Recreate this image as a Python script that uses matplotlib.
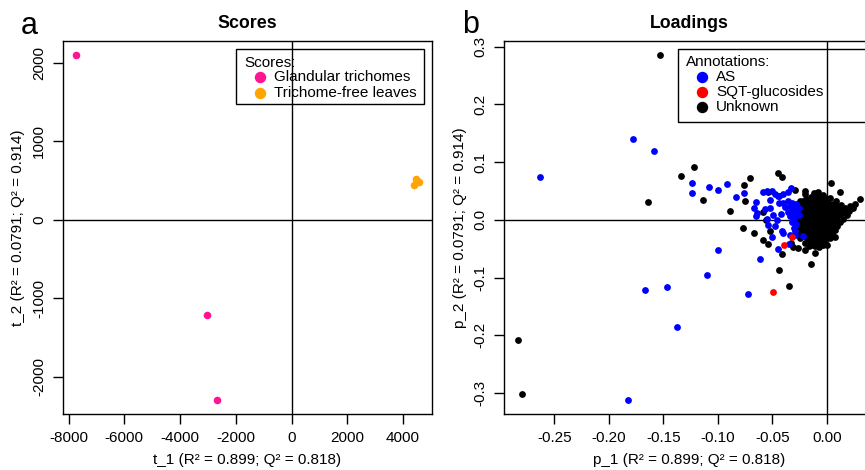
import numpy as np
import matplotlib
matplotlib.use("Agg")
import matplotlib.pyplot as plt
from matplotlib.patches import Rectangle
from matplotlib.lines import Line2D

plt.rcParams['font.family'] = ['Liberation Sans', 'DejaVu Sans']
plt.rcParams['axes.unicode_minus'] = False

# ---- scores (panel a) ----
gland_x = [-7720, -3038, -2668]
gland_y = [2100, -1211, -2304]
free_x = [4381, 4452, 4560, 4500]
free_y = [441, 521, 474, 490]

score_xticks = [-8000, -6000, -4000, -2000, 0, 2000, 4000]
score_yticks = [-2000, -1000, 0, 1000, 2000]

# ---- loadings (panel b) ----
as_x = [-0.263, -0.1777, -0.1581, -0.1239, -0.1233, -0.1083, -0.0994, -0.0915, -0.0832, -0.0759,
        -0.0646, -0.0667, -0.0637, -0.0649, -0.0582, -0.0545, -0.0505, -0.052, -0.0566, -0.052,
        -0.0453, -0.0435, -0.033, -0.049, -0.0459, -0.0536, -0.0474, -0.0505, -0.0413, -0.0404,
        -0.0444, -0.0352, -0.0337, -0.0291, -0.022, -0.0997, -0.0609, -0.1101, -0.0725, -0.1468,
        -0.1667, -0.1373, -0.1826, -0.0545,
        -0.040, -0.036, -0.032, -0.028, -0.038, -0.034, -0.030, -0.026, -0.036, -0.032,
        -0.028, -0.034, -0.030, -0.026, -0.032, -0.028, -0.030, -0.029, -0.048, -0.040,
        -0.036, -0.044, -0.042]
as_y = [0.074, 0.1407, 0.1188, 0.0645, 0.0473, 0.0571, 0.0519, 0.0628, 0.0398, 0.0462,
        0.0317, 0.0202, 0.0116, 0.0069, 0.049, 0.0507, 0.0507, 0.0346, 0.019, 0.0202,
        0.0415, 0.0415, 0.0548, 0.0087, 0.0, -0.0087, -0.0104, -0.030, -0.0185, -0.022,
        -0.0507, -0.042, -0.026, -0.026, -0.0272, -0.0531, -0.0675, -0.0952, -0.128, -0.1159,
        -0.1211, -0.1851, -0.3131, 0.0017,
        0.030, 0.032, 0.030, 0.027, 0.022, 0.024, 0.022, 0.020, 0.014, 0.016,
        0.012, 0.006, 0.004, 0.008, -0.004, -0.008, -0.014, -0.020, 0.045, 0.044,
        0.048, 0.030, 0.010]

sqt_x = [-0.049, -0.0389, -0.0318]
sqt_y = [-0.1257, -0.0444, -0.0306]

# scattered unknowns
unk_x = [-0.1527, -0.2832, -0.2795, -0.1334, -0.1217, -0.1636, -0.1135, -0.089, -0.0756, -0.0701,
         -0.0752, -0.0765, -0.0667, -0.0584, -0.0536, -0.0557, -0.0582, -0.044, -0.0352, -0.045,
         -0.0413, -0.0536, -0.0416, -0.0312, -0.0263, -0.0199, -0.0105, -0.0147, 0.007, 0.0,
         0.0039, 0.0116, 0.0306, 0.0207, 0.016, 0.012, -0.0083, -0.0199, -0.029, -0.009,
         -0.0046, -0.0325, -0.052]
unk_y = [0.286, -0.2081, -0.3016, 0.0761, 0.0923, 0.0306, 0.0346, 0.015, 0.0606, 0.0732,
         0.0329, -0.0144, -0.0225, -0.0346, -0.042, -0.0005, 0.0144, -0.0877, -0.1154, 0.0808,
         0.0739, 0.0479, -0.0588, -0.0473, -0.049, -0.0519, -0.0571, -0.0767, -0.0289, -0.0433,
         0.0645, 0.0479, 0.0358, 0.0237, 0.017, 0.013, 0.0479, 0.0502, 0.0519, 0.047,
         0.0393, -0.0403, -0.0202]

# dense core of unknowns near the origin
core_x = [-0.015, -0.010, -0.006,
          -0.019, -0.0145, -0.010, -0.0055, -0.001,
          -0.022, -0.017, -0.012, -0.008, -0.003, 0.000,
          -0.0215, -0.017, -0.0125, -0.008, -0.0035, 0.001, 0.0055,
          -0.024, -0.019, -0.015, -0.010, -0.006, -0.001, 0.004, 0.009,
          -0.0235, -0.019, -0.0145, -0.010, -0.0055, -0.001, 0.0035, 0.008, 0.0125,
          -0.026, -0.021, -0.017, -0.012, -0.008, -0.003, 0.002, 0.006, 0.011, 0.014,
          -0.0235, -0.019, -0.0145, -0.010, -0.0055, -0.001, 0.0035, 0.008, 0.0125, 0.016,
          -0.026, -0.021, -0.017, -0.012, -0.008, -0.003, 0.002, 0.006, 0.011,
          -0.0235, -0.019, -0.0145, -0.010, -0.0055, -0.001, 0.0035, 0.008,
          -0.024, -0.019, -0.015, -0.010, -0.006, -0.001, 0.004, 0.008,
          -0.0215, -0.017, -0.0125, -0.008, -0.0035, 0.001, 0.0055,
          -0.024, -0.019, -0.015, -0.010, -0.006, -0.001, 0.004,
          -0.0215, -0.017, -0.0125, -0.008, -0.0035, 0.001, 0.0055,
          -0.024, -0.019, -0.015, -0.010, -0.006, -0.001, 0.003,
          -0.0215, -0.017, -0.0125, -0.008, -0.0035, 0.001,
          -0.022, -0.017, -0.012, -0.008, -0.003, 0.001,
          -0.0195, -0.015, -0.0105, -0.006, -0.0015, 0.002,
          -0.018, -0.013, -0.009, -0.004, 0.000,
          -0.0165, -0.012, -0.0075, -0.003,
          -0.015, -0.010, -0.005,
          -0.013, -0.0085, -0.004,
          -0.011, -0.007]
core_y = [0.040, 0.041, 0.039,
          0.036, 0.037, 0.036, 0.035, 0.036,
          0.032, 0.033, 0.032, 0.034, 0.031, 0.032,
          0.028, 0.029, 0.028, 0.027, 0.028, 0.029, 0.028,
          0.024, 0.025, 0.024, 0.025, 0.024, 0.023, 0.025, 0.024,
          0.020, 0.021, 0.020, 0.019, 0.020, 0.021, 0.020, 0.019, 0.020,
          0.016, 0.017, 0.016, 0.015, 0.016, 0.017, 0.016, 0.015, 0.016, 0.017,
          0.012, 0.013, 0.012, 0.011, 0.012, 0.013, 0.012, 0.011, 0.012, 0.013,
          0.008, 0.009, 0.008, 0.007, 0.008, 0.009, 0.008, 0.007, 0.008,
          0.004, 0.005, 0.004, 0.003, 0.004, 0.005, 0.004, 0.003,
          0.000, 0.001, 0.000, -0.001, 0.000, 0.001, 0.000, 0.000,
          -0.004, -0.003, -0.004, -0.005, -0.004, -0.003, -0.004,
          -0.008, -0.009, -0.008, -0.007, -0.008, -0.009, -0.008,
          -0.012, -0.011, -0.012, -0.013, -0.012, -0.011, -0.012,
          -0.016, -0.017, -0.016, -0.015, -0.016, -0.017, -0.016,
          -0.020, -0.019, -0.020, -0.021, -0.020, -0.019,
          -0.024, -0.025, -0.024, -0.023, -0.024, -0.025,
          -0.028, -0.027, -0.028, -0.029, -0.028, -0.027,
          -0.032, -0.033, -0.032, -0.031, -0.032,
          -0.036, -0.035, -0.036, -0.037,
          -0.040, -0.041, -0.040,
          -0.043, -0.044, -0.043,
          -0.046, -0.047]

# outer rim of the dense core
rim_x = [-0.020, -0.012, -0.004, 0.003, 0.008, 0.013, 0.017, 0.020, 0.018, 0.015,
         0.012, 0.009, 0.007, 0.005, 0.003, -0.002, -0.016, -0.020, -0.025, -0.027,
         -0.028, -0.028, -0.028, -0.027, -0.025, 0.024, 0.026]
rim_y = [0.044, 0.046, 0.043, 0.038, 0.032, 0.026, 0.020, 0.015, 0.008, 0.002,
         -0.004, -0.010, -0.018, -0.024, -0.032, -0.040, -0.046, -0.040, -0.032, -0.024,
         -0.012, 0.000, 0.012, 0.024, 0.032, 0.020, 0.028]

load_xticks = [-0.25, -0.20, -0.15, -0.10, -0.05, 0.00]
load_yticks = [-0.3, -0.2, -0.1, 0.0, 0.1, 0.2, 0.3]

W, H = 865, 470
PINK, ORANGE = '#FF1493', '#FFA500'
FS = 11


def fx(x):
    return x / W


def fy(y):
    return 1 - y / H


def r_lim(vals):
    lo, hi = min(vals), max(vals)
    r = hi - lo
    return lo - 0.04 * r, hi + 0.04 * r


def style_axes(ax):
    for s in ax.spines.values():
        s.set_linewidth(1.0)
    ax.tick_params(direction='out', length=7, width=1.0, pad=5, labelsize=FS)
    ax.tick_params(axis='y', labelrotation=90)
    for lab in ax.get_yticklabels():
        lab.set_va('center')
    ax.axhline(0, color='black', lw=1.0, zorder=1)
    ax.axvline(0, color='black', lw=1.0, zorder=1)


def draw_legend(fig, x0, y0, x1, y1, title, labels, colors, rows):
    fig.add_artist(Rectangle((fx(x0), fy(y1)), fx(x1 - x0), (y1 - y0) / H,
                             transform=fig.transFigure, fill=False, lw=1.0,
                             edgecolor='black', clip_on=False))
    fig.text(fx(x0 + 8), fy(rows[0]), title, fontsize=FS, va='center', ha='left')
    for lab, col, ry in zip(labels, colors, rows[1:]):
        fig.add_artist(Line2D([fx(x0 + 24)], [fy(ry)], marker='o', markersize=7.2,
                              color=col, linestyle='none', transform=fig.transFigure))
        fig.text(fx(x0 + 38), fy(ry), lab, fontsize=FS, va='center', ha='left')


fig = plt.figure(figsize=(W / 100, H / 100), dpi=100)

# panel a
ax1 = fig.add_axes([fx(62.7), fy(414.3), fx(432.3 - 62.7), (414.3 - 41) / H])
ax1.scatter(gland_x, gland_y, s=30, color=PINK, zorder=3, linewidths=0)
ax1.scatter(free_x, free_y, s=30, color=ORANGE, zorder=3, linewidths=0)
ax1.set_xlim(*r_lim(gland_x + free_x))
ax1.set_ylim(*r_lim(gland_y + free_y))
ax1.set_xticks(score_xticks)
ax1.set_yticks(score_yticks)
ax1.set_xticklabels([str(v) for v in score_xticks])
ax1.set_yticklabels([str(v) for v in score_yticks])
style_axes(ax1)

# panel b
all_unk_x = unk_x + core_x + rim_x
all_unk_y = unk_y + core_y + rim_y
ax2 = fig.add_axes([fx(504.3), fy(414.3), fx(874 - 504.3), (414.3 - 41) / H])
ax2.scatter(all_unk_x, all_unk_y, s=24, color='black', zorder=3, linewidths=0)
ax2.scatter(as_x, as_y, s=24, color='#0000FF', zorder=4, linewidths=0)
ax2.scatter(sqt_x, sqt_y, s=24, color='#FF0000', zorder=5, linewidths=0)
ax2.set_xlim(*r_lim(all_unk_x + as_x + sqt_x))
ax2.set_ylim(*r_lim(all_unk_y + as_y + sqt_y))
ax2.set_xticks(load_xticks)
ax2.set_yticks(load_yticks)
ax2.set_xticklabels(['%.2f' % v for v in load_xticks])
ax2.set_yticklabels(['%.1f' % v for v in load_yticks])
style_axes(ax2)

# titles, axis labels, panel letters
fig.text(fx(247.5), fy(23), 'Scores', fontsize=12.8, fontweight='bold', ha='center', va='center')
fig.text(fx(689), fy(23), 'Loadings', fontsize=12.8, fontweight='bold', ha='center', va='center')
fig.text(fx(247.5), fy(460), 't_1 (R² = 0.899; Q² = 0.818)', fontsize=FS, ha='center', va='center')
fig.text(fx(689), fy(460), 'p_1 (R² = 0.899; Q² = 0.818)', fontsize=FS, ha='center', va='center')
fig.text(fx(18), fy(228), 't_2 (R² = 0.0791; Q² = 0.914)', fontsize=FS, rotation=90,
         ha='center', va='center')
fig.text(fx(460), fy(228), 'p_2 (R² = 0.0791; Q² = 0.914)', fontsize=FS, rotation=90,
         ha='center', va='center')
fig.text(fx(21), fy(34), 'a', fontsize=22, ha='left', va='baseline')
fig.text(fx(462), fy(33), 'b', fontsize=22, ha='left', va='baseline')

draw_legend(fig, 236, 49, 424.3, 104.3, 'Scores:',
            ['Glandular trichomes', 'Trichome-free leaves'], [PINK, ORANGE],
            [62.7, 77.3, 93.3])
draw_legend(fig, 678.3, 49.3, 880, 122.3, 'Annotations:',
            ['AS', 'SQT-glucosides', 'Unknown'], ['#0000FF', '#FF0000', 'black'],
            [61.7, 76.7, 92.3, 106.7])

fig.savefig('out.png', dpi=100)
